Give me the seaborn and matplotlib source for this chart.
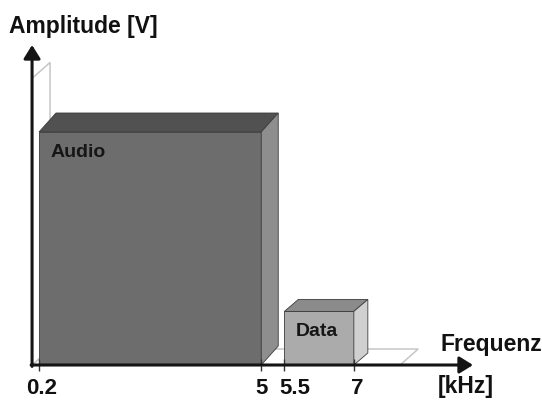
import matplotlib
matplotlib.use("Agg")
import matplotlib.pyplot as plt
import matplotlib.transforms as mtransforms
from matplotlib.patches import Polygon
import seaborn as sns

# Frequency bands (kHz) and their relative amplitudes
bands = ["Audio", "Data"]
band_start = [0.2, 5.5]
band_end = [5.0, 7.0]
amplitude = [1.0, 0.23]

tick_values = [0.2, 5, 5.5, 7]
tick_labels = ["0.2", "5", "5.5", "7"]

# frequency where the vertical axis stands, extent of floor and side wall
axis_origin = 0.05
floor_end = 8.0
wall_height = 1.23

# face colours (front, top, side) and oblique depth in pixels (right, up)
face_colors = [("#6d6d6d", "#515151", "#8e8e8e"),
               ("#ababab", "#8b8b8b", "#d0d0d0")]
depth_px = [(17, 19), (14, 12)]
wall_depth_px = (18, 16)

sns.set_theme(style="white")
plt.rcParams["font.family"] = ["Liberation Sans", "DejaVu Sans"]

W, H = 542, 401
fig = plt.figure(figsize=(W / 100, H / 100), dpi=100)
ax = fig.add_axes([0, 0, 1, 1])

# pixel scale of both axes
px_x, px_y = 46.3, 233.0
x_lo = 0.2 - 39 / px_x
y_lo = -(H - 365) / px_y
ax.set_xlim(x_lo, x_lo + W / px_x)
ax.set_ylim(y_lo, y_lo + H / px_y)


def back(x, y, d):
    """Shift a point into the depth of the drawing by d pixels."""
    return (x + d[0] / px_x, y + d[1] / px_y)


edge = "#3c3c3c"
ghost = "#c6c6c6"

# floor and side wall of the 3D frame
o = axis_origin
wall = [(o, 0), (o, wall_height), back(o, wall_height, wall_depth_px),
        back(o, 0, wall_depth_px)]
floor = [(o, 0), (floor_end, 0), back(floor_end, 0, wall_depth_px),
         back(o, 0, wall_depth_px)]
for poly in (floor, wall):
    ax.add_patch(Polygon(poly, closed=True, facecolor="white",
                         edgecolor=ghost, linewidth=1.1, zorder=1))

# the bands as shaded blocks
for name, lo, hi, amp, cols, d in zip(bands, band_start, band_end, amplitude,
                                      face_colors, depth_px):
    front, top, side = cols
    sns.histplot(x=[(lo + hi) / 2], weights=[amp], bins=[lo, hi],
                 color=front, alpha=1, edgecolor=edge, linewidth=0.6,
                 ax=ax, zorder=2)
    top_face = [(lo, amp), (hi, amp), back(hi, amp, d), back(lo, amp, d)]
    side_face = [(hi, 0), (hi, amp), back(hi, amp, d), back(hi, 0, d)]
    ax.add_patch(Polygon(top_face, closed=True, facecolor=top,
                         edgecolor=edge, linewidth=0.6, zorder=2))
    ax.add_patch(Polygon(side_face, closed=True, facecolor=side,
                         edgecolor=edge, linewidth=0.6, zorder=2))
    ax.annotate(name, xy=(lo, amp), xytext=(8.5, -14.5),
                textcoords="offset points", ha="left", va="center",
                fontsize=14, fontweight="bold", color="#161616", zorder=4)

ax.set_xlim(x_lo, x_lo + W / px_x)
ax.set_ylim(y_lo, y_lo + H / px_y)
ax.set_xlabel("")
ax.set_ylabel("")

# axes drawn as arrows
arrow_kw = dict(arrowstyle="-|>,head_length=0.45,head_width=0.28",
                color="#141414", lw=2.2, mutation_scale=18,
                shrinkA=0, shrinkB=0)
x_tip = 0.2 + (473 - 39) / px_x
y_tip = (365 - 45) / px_y
ax.annotate("", xy=(x_tip, 0), xytext=(o - 0.02, 0), arrowprops=arrow_kw,
            zorder=5)
ax.annotate("", xy=(o, y_tip), xytext=(o, -0.006), arrowprops=arrow_kw,
            zorder=5)

ax.set_axisbelow(False)
for s in ax.spines.values():
    s.set_visible(False)
ax.spines["bottom"].set_position(("data", 0))
ax.set_yticks([])
ax.set_xticks(tick_values, tick_labels)
ax.tick_params(axis="x", bottom=True, direction="inout", length=9, width=1,
               color="#333333", pad=5, labelsize=16, labelcolor="#111111")
label_shift = {"0.2": 3, "5.5": 10, "7": 3}
for lab in ax.get_xticklabels():
    lab.set_fontweight("bold")
    dx = label_shift.get(lab.get_text(), 0)
    if dx:
        lab.set_transform(lab.get_transform() +
                          mtransforms.ScaledTranslation(dx / 100, 0,
                                                        fig.dpi_scale_trans))

txt_kw = dict(fontsize=16.5, fontweight="bold", color="#111111",
              ha="left", va="center")
fig.text(9 / W, 1 - 27 / H, "Amplitude [V]", **txt_kw)
fig.text(440 / W, 1 - 345 / H, "Frequenz", **txt_kw)
fig.text(438 / W, 1 - 387 / H, "[kHz]", **txt_kw)

fig.savefig("out.png", dpi=100, facecolor="white")
